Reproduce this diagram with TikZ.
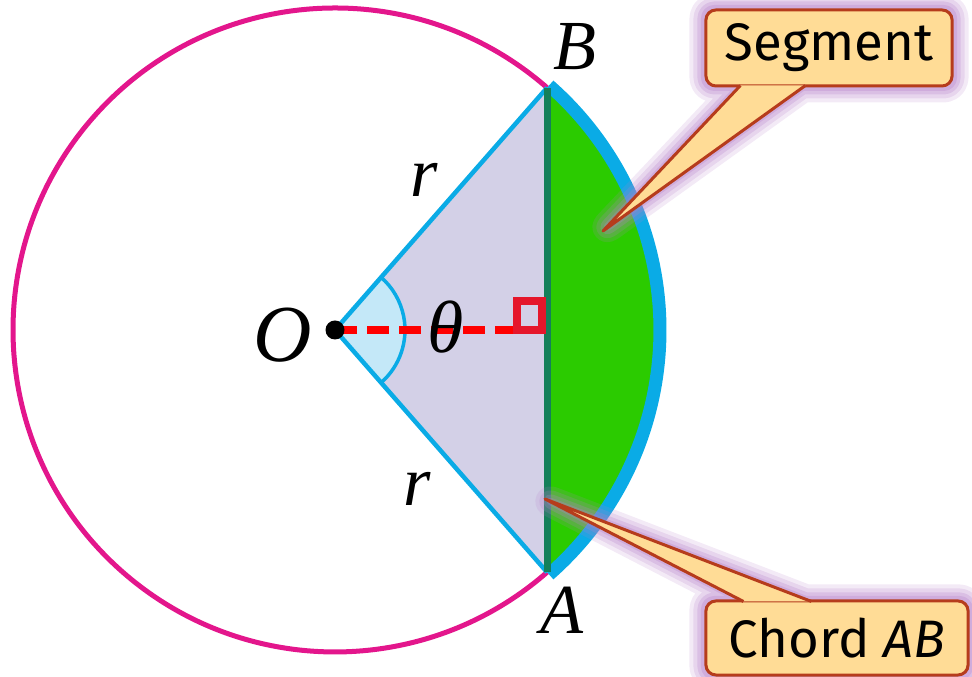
\documentclass[tikz,border=0pt]{standalone}
\usepackage{fontspec}
\setmainfont{Liberation Serif}
\newfontfamily\callfont{Fira Sans}
\usetikzlibrary{calc}
\definecolor{cirpink}{HTML}{E3168C}
\definecolor{arcblue}{HTML}{0AABE6}
\definecolor{trilav}{HTML}{D3D0E7}
\definecolor{anglefill}{HTML}{C4E8F8}
\definecolor{seggreen}{HTML}{2BCB00}
\definecolor{chordgreen}{HTML}{14805A}
\definecolor{callfill}{HTML}{FFDC96}
\definecolor{callrim}{HTML}{B63C1C}
\definecolor{glowpurple}{HTML}{B57FC9}
\definecolor{rightred}{HTML}{E5162B}
\pgfdeclarelayer{glow}
\pgfdeclarelayer{front}
\pgfsetlayers{main,glow,front}

\begin{document}
\begin{tikzpicture}[x=0.01cm, y=0.01cm,
    lbl/.style={font=\fontsize{20}{22}\selectfont\itshape, inner sep=0pt},
    callbox/.style={draw=callrim, fill=callfill, line width=0.03cm, rounded corners=0.1cm,
                    minimum width=2.46cm, minimum height=0.76cm, font=\callfont\fontsize{15}{17}\selectfont},
    pointer/.style={draw=callrim, line width=0.03cm, line join=round}]
  \useasboundingbox (0,0) rectangle (972,677);
  % centre, chord ends, foot of the perpendicular
  \coordinate (O) at (335,347);
  \coordinate (B) at ($(O)+(48.8:322)$);
  \coordinate (A) at ($(O)+(-48.8:322)$);
  \coordinate (F) at ($(A)!0.5!(B)$);

  % segment, sector triangle, angle
  \fill[seggreen] (A) arc[start angle=-48.8, end angle=48.8, radius=322] -- cycle;
  \fill[trilav] (O) -- (A) -- (B) -- cycle;
  \fill[anglefill] (O) -- ($(O)+(-48.8:70)$) arc[start angle=-48.8, end angle=48.8, radius=70] -- cycle;
  \draw[arcblue, line width=0.035cm] ($(O)+(-48.8:70)$) arc[start angle=-48.8, end angle=48.8, radius=70];

  % circle, minor arc, radii, chord
  \draw[cirpink, line width=0.05cm] (B) arc[start angle=48.8, end angle=311.2, radius=322];
  \draw[arcblue, line width=0.13cm] ($(O)+(-48.8:325)$) arc[start angle=-48.8, end angle=48.8, radius=325];
  \draw[arcblue, line width=0.045cm] (A) -- (O) -- (B);
  \draw[chordgreen, line width=0.07cm] (A) -- (B);

  % perpendicular and right angle mark
  \draw[red, line width=0.08cm, dash pattern=on 0.22cm off 0.1cm] (O) -- ($(F)+(-30,0)$);
  \draw[rightred, line width=0.075cm] ($(F)+(-30,0)$) rectangle ($(F)+(-5,29)$);
  \fill (O) circle[radius=9.5];

  % labels
  \node[lbl] (Blbl) at (575,630) {B};
  \node[lbl] (Albl) at (562,67) {A};
  \node[lbl, font=\fontsize{23}{25}\selectfont\itshape] (Olbl) at (283,342) {O};
  \node[lbl, font=\fontsize{21}{23}\selectfont\itshape] (thlbl) at (446,350) {θ};
  \node[lbl] (rup) at (424,497) {r};
  \node[lbl] (rdown) at (417,188) {r};

  % callouts
  \begin{pgfonlayer}{front}
    \node[callbox] (segbox) at (829,629) {Segment};
    \coordinate (segtip) at (603,446);
    \coordinate (segl) at ($(segbox.south west)+(36,2)$);
    \coordinate (segr) at ($(segbox.south west)+(101,2)$);
    \fill[callfill] (segl) -- (segtip) -- (segr) -- cycle;
    \draw[pointer] (segl) -- (segtip) -- (segr);

    \node[callbox, minimum width=2.62cm, minimum height=0.74cm] (chordbox) at (837,39) {Chord \textit{AB}};
    \coordinate (chordtip) at (545,178);
    \coordinate (chordl) at ($(chordbox.north west)+(39,-2)$);
    \coordinate (chordr) at ($(chordbox.north west)+(107,-2)$);
    \fill[callfill] (chordl) -- (chordtip) -- (chordr) -- cycle;
    \draw[pointer] (chordl) -- (chordtip) -- (chordr);
  \end{pgfonlayer}

  % purple glow round the callouts
  \begin{pgfonlayer}{glow}
    \foreach \w/\o in {30/.16, 22/.2, 14/.26, 7/.3} {
      \draw[glowpurple, line width=\w*0.01cm, opacity=\o, line join=round, rounded corners=0.1cm]
        (segbox.south west) rectangle (segbox.north east) (segl) -- (segtip) -- (segr);
      \draw[glowpurple, line width=\w*0.01cm, opacity=\o, line join=round, rounded corners=0.1cm]
        (chordbox.south west) rectangle (chordbox.north east) (chordl) -- (chordtip) -- (chordr);
    }
  \end{pgfonlayer}
\end{tikzpicture}
\end{document}
